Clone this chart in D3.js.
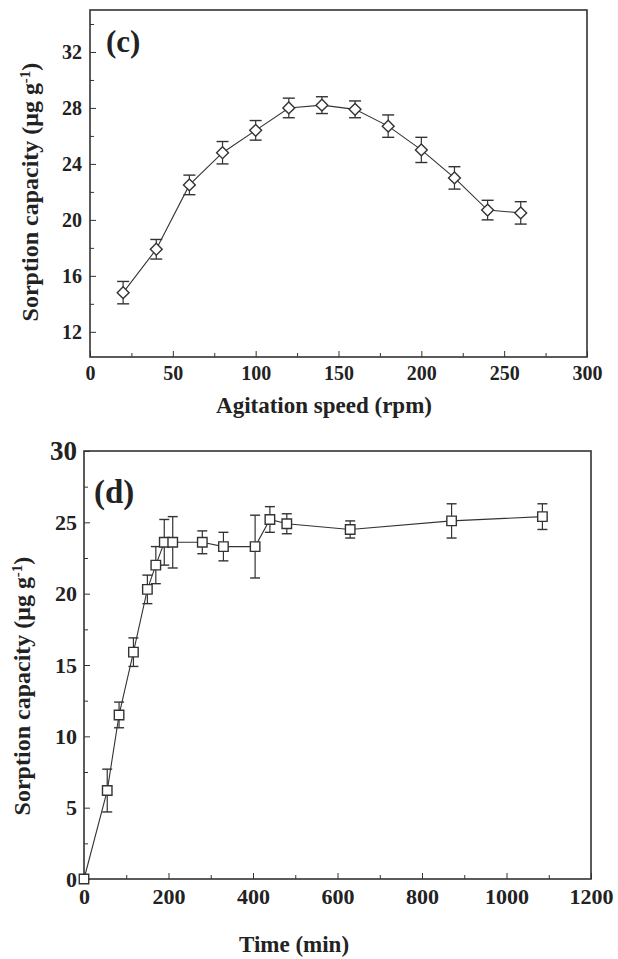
<!DOCTYPE html>
<html><head><meta charset="utf-8">
<script src="https://cdn.jsdelivr.net/npm/d3@7"></script>
<style>body{margin:0;background:#fff}svg text{font-family:"Liberation Serif","DejaVu Serif",serif;font-weight:bold;fill:#222}</style>
</head><body><svg id="c" width="618" height="959"></svg>
<script>
// Panel (c)
const speed = [20,40,60,80,100,120,140,160,180,200,220,240,260];
const capC  = [14.8,17.9,22.5,24.8,26.4,28.0,28.2,27.9,26.7,25.0,23.0,20.7,20.5];
const errC  = [0.8,0.7,0.7,0.8,0.7,0.7,0.6,0.6,0.8,0.9,0.8,0.7,0.8];
const xTicksC = [0,50,100,150,200,250,300];
const yTicksC = [12,16,20,24,28,32];
// Panel (d)
const time = [0,55,83,117,150,170,190,210,280,330,405,440,480,630,870,1085];
const capD = [0,6.2,11.5,15.9,20.3,22.0,23.6,23.6,23.6,23.3,23.3,25.2,24.9,24.5,25.1,25.4];
const errD = [0,1.5,0.9,1.0,1.0,1.3,1.6,1.8,0.8,1.0,2.2,0.9,0.7,0.6,1.2,0.9];
const xTicksD = [0,200,400,600,800,1000,1200];
const yTicksD = [0,5,10,15,20,25,30];

const svg = d3.select("#c");
const ink = "#333";

function panel(o){
  const g = svg.append("g");
  const x = d3.scaleLinear().domain(o.xd).range([o.L,o.R]);
  const y = d3.scaleLinear().domain(o.yd).range([o.B,o.T]);
  g.append("rect").attr("x",o.L).attr("y",o.T).attr("width",o.R-o.L).attr("height",o.B-o.T)
    .attr("fill","none").attr("stroke",ink).attr("stroke-width",1.6);
  const xa = g.append("g").attr("transform",`translate(0,${o.B})`)
    .call(d3.axisBottom(x).tickValues(o.xt).tickSize(-6).tickPadding(o.xpad).tickFormat(d3.format("d")));
  const xm = g.append("g").attr("transform",`translate(0,${o.B})`)
    .call(d3.axisBottom(x).tickValues(o.xm).tickSize(-4).tickFormat(""));
  const ya = g.append("g").attr("transform",`translate(${o.L},0)`)
    .call(d3.axisLeft(y).tickValues(o.yt).tickSize(-6).tickPadding(o.ypad).tickFormat(d3.format("d")));
  const ym = g.append("g").attr("transform",`translate(${o.L},0)`)
    .call(d3.axisLeft(y).tickValues(o.ym).tickSize(-4).tickFormat(""));
  [xa,xm,ya,ym].forEach(a=>{a.select(".domain").remove();a.selectAll("line").attr("stroke",ink);
    a.attr("font-size",o.fs).attr("font-family",null);
    a.selectAll("text").style("font-size",o.fs+"px").attr("fill","#222");});
  const line = d3.line().x((d,i)=>x(o.xs[i])).y(d=>y(d));
  g.append("path").datum(o.ys).attr("d",line).attr("fill","none").attr("stroke",ink).attr("stroke-width",1.1);
  o.ys.forEach((v,i)=>{
    if(!o.es[i]) return;
    const cx = x(o.xs[i]), y1 = y(v+o.es[i]), y2 = y(v-o.es[i]);
    g.append("line").attr("x1",cx).attr("x2",cx).attr("y1",y1).attr("y2",y2).attr("stroke",ink).attr("stroke-width",1.2);
    [y1,y2].forEach(yy=>g.append("line").attr("x1",cx-o.cap).attr("x2",cx+o.cap).attr("y1",yy).attr("y2",yy).attr("stroke",ink).attr("stroke-width",1.4));
  });
  const sym = d3.symbol().type(o.sym).size(o.ms);
  g.selectAll(".m").data(o.ys).enter().append("path")
    .attr("transform",(d,i)=>`translate(${x(o.xs[i])},${y(d)})${o.rot?" rotate(45)":""}`)
    .attr("d",sym).attr("fill","#fff").attr("stroke",ink).attr("stroke-width",1.4);
  return {x,y,g};
}

panel({L:90,R:587,T:10,B:357,xd:[0,300],yd:[10.2,35],xt:xTicksC,xm:[25,75,125,175,225,275],
  yt:yTicksC,ym:[14,18,22,26,30,34],xs:speed,ys:capC,es:errC,fs:20,xpad:9,ypad:8,
  sym:d3.symbolSquare,rot:true,ms:70,cap:6});
svg.append("text").attr("x",106).attr("y",52).attr("font-size",31).text("(c)");
svg.append("text").attr("x",324).attr("y",413).attr("text-anchor","middle").attr("font-size",23).text("Agitation speed (rpm)");
svg.append("text").attr("transform","translate(38,192) rotate(-90)").attr("text-anchor","middle").attr("font-size",24)
  .html('Sorption capacity (μg g<tspan dy="-8" font-size="15">-1</tspan><tspan dy="8">)</tspan>');

const pd = panel({L:84,R:591,T:451,B:879,xd:[0,1200],yd:[0,30],xt:xTicksD,xm:[100,300,500,700,900,1100],
  yt:yTicksD,ym:[2.5,7.5,12.5,17.5,22.5,27.5],xs:time,ys:capD,es:errD,fs:22,xpad:9,ypad:7,
  sym:d3.symbolSquare,rot:false,ms:90,cap:5});
pd.g.selectAll("text").filter(function(){return this.textContent==="30";}).style("font-size","27px");
svg.append("text").attr("x",94).attr("y",503).attr("font-size",33).text("(d)");
svg.append("text").attr("x",294).attr("y",952).attr("text-anchor","middle").attr("font-size",23).text("Time (min)");
svg.append("text").attr("transform","translate(30,686) rotate(-90)").attr("text-anchor","middle").attr("font-size",24)
  .html('Sorption capacity (μg g<tspan dy="-8" font-size="15">-1</tspan><tspan dy="8">)</tspan>');
</script></body></html>
